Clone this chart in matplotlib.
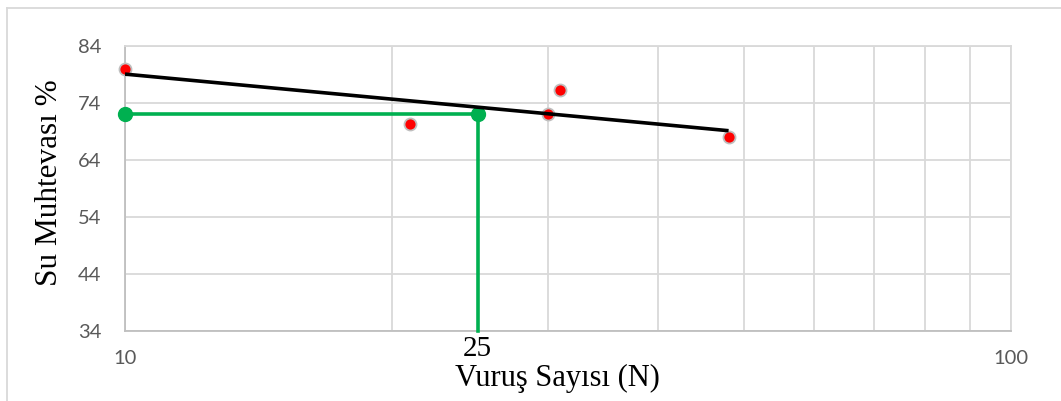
import numpy as np
import matplotlib.pyplot as plt
from matplotlib.lines import Line2D
from matplotlib.ticker import FixedLocator, NullFormatter

# deney verileri: vuruş sayısı ve su muhtevası
vurus = [10, 21, 30, 31, 48]
su_muhtevasi = [80, 70.4, 72, 76.2, 68]

# likit limit okuması
n_ll = 25
w_ll = 72

y_ticks = [34, 44, 54, 64, 74, 84]

# logaritmik eğilim çizgisi
a, b = np.polyfit(np.log10(vurus), su_muhtevasi, 1)
x_fit = np.array([min(vurus), max(vurus)])
y_fit = a * np.log10(x_fit) + b

fig = plt.figure(figsize=(10.61, 4.01), dpi=100)
ax = fig.add_axes([125 / 1061, 70 / 401, 886 / 1061, 285 / 401])

grid_c = "#D9D9D9"
axis_c = "#BFBFBF"

ax.set_xscale("log")
ax.set_xlim(10, 100)
ax.set_ylim(34, 84)
ax.set_yticks(y_ticks)
ax.xaxis.set_major_locator(FixedLocator([10, 100]))
ax.xaxis.set_minor_locator(FixedLocator(list(range(20, 100, 10))))
ax.xaxis.set_minor_formatter(NullFormatter())
ax.set_xticklabels(["10", "100"])
ax.tick_params(which="both", length=0, labelsize=14.5, labelcolor="#595959",
               labelfontfamily="Lato")
ax.tick_params(axis="y", pad=17)
ax.tick_params(axis="x", pad=14)
ax.grid(True, which="both", color=grid_c, linewidth=1.3)
ax.set_axisbelow(True)
for side in ["top", "right"]:
    ax.spines[side].set_color(grid_c)
    ax.spines[side].set_linewidth(1.3)
for side in ["left", "bottom"]:
    ax.spines[side].set_color(axis_c)
    ax.spines[side].set_linewidth(1.3)

# yeşil okuma çizgileri
green = "#00B050"
ax.plot([10, n_ll, n_ll], [w_ll, w_ll, 34], color=green, linewidth=2.6,
        zorder=3, clip_on=False)
ax.plot([10, n_ll], [w_ll, w_ll], linestyle="none", marker="o",
        markersize=10, color=green, zorder=4, clip_on=False)

ax.scatter(vurus, su_muhtevasi, s=75, color="#FF0000", edgecolors="#BFBFBF",
           linewidths=1.3, zorder=5, clip_on=False)
ax.plot(x_fit, y_fit, color="black", linewidth=2.6, zorder=6,
        solid_capstyle="butt")

ax.text(n_ll, 33.2, str(n_ll), ha="center", va="top", fontsize=21,
        family="Liberation Serif")

ax.set_xlabel("Vuruş Sayısı (N)", family="Liberation Serif", fontsize=22)
ax.xaxis.set_label_coords(0.4876, -0.115)
ax.set_ylabel("Su Muhtevası %", family="Liberation Serif", fontsize=22.5)
ax.yaxis.set_label_coords(-0.069, 0.52)

# grafik alanı çerçevesi
fig.add_artist(Line2D([7 / 1061, 1.0], [1 - 8 / 401, 1 - 8 / 401],
                      color=grid_c, linewidth=1.3))
fig.add_artist(Line2D([7 / 1061, 7 / 1061], [0, 1 - 8 / 401],
                      color=grid_c, linewidth=1.3))

fig.savefig("out.png", dpi=100)
